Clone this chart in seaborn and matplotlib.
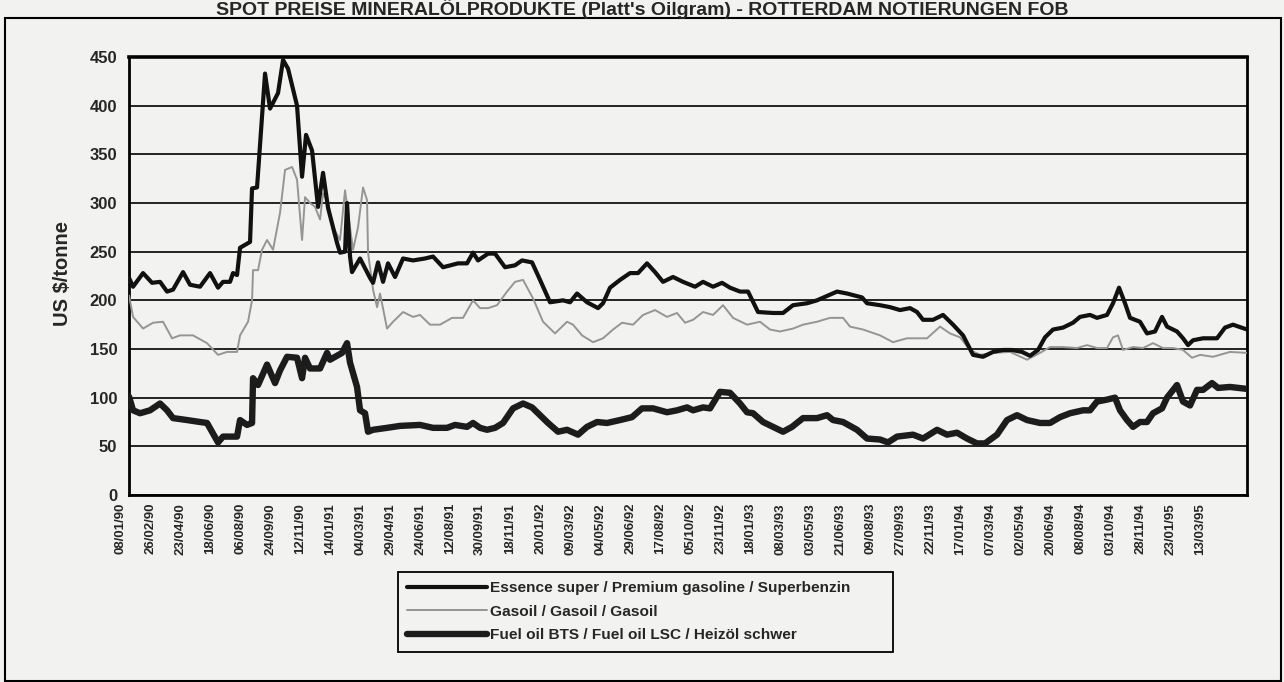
import numpy as np
import pandas as pd
import seaborn as sns
import matplotlib.pyplot as plt
import matplotlib.transforms as mtransforms
from matplotlib.patches import Rectangle
from matplotlib.ticker import MultipleLocator

# %%
title = "SPOT PREISE MINERALÖLPRODUKTE (Platt's Oilgram) - ROTTERDAM NOTIERUNGEN FOB"
y_label = "US $/tonne"
names = ["Essence super / Premium gasoline / Superbenzin",
         "Gasoil / Gasoil / Gasoil",
         "Fuel oil BTS / Fuel oil LSC / Heizöl schwer"]

date_labels = ["08/01/90", "26/02/90", "23/04/90", "18/06/90", "06/08/90", "24/09/90",
               "12/11/90", "14/01/91", "04/03/91", "29/04/91", "24/06/91", "12/08/91",
               "30/09/91", "18/11/91", "20/01/92", "09/03/92", "04/05/92", "29/06/92",
               "17/08/92", "05/10/92", "23/11/92", "18/01/93", "08/03/93", "03/05/93",
               "21/06/93", "09/08/93", "27/09/93", "22/11/93", "17/01/94", "07/03/94",
               "02/05/94", "20/06/94", "08/08/94", "03/10/94", "28/11/94", "23/01/95",
               "13/03/95"]
weeks_per_label = 7.5
last_week = 279.5

# weekly quotations (week number counted from 08/01/90)
ess_week = [0, 1, 3.5, 5.75, 7.75, 9.5, 11, 13.5, 15.25, 17.75,
            20.25, 22.25, 23.5, 25.25, 26, 27, 27.75, 30.25, 30.75, 32,
            34, 35.25, 37.25, 38.5, 39.75, 42, 43.25, 44.25, 45.75, 47.25,
            48.5, 49.75, 52, 52.75, 54, 54.5, 55.25, 55.75, 57.75, 60.25,
            61, 62.25, 63.5, 64.75, 66.5, 68.5, 71, 74, 76, 78.5,
            82.25, 84.5, 86, 87.25, 89.75, 91.5, 94, 96.5, 98.25, 100.75,
            102.75, 105.25, 108.5, 110.25, 112, 114.5, 117.25, 118.5, 120.25, 122.75,
            125.25, 127.25, 129.5, 131.5, 133.5, 136, 138.5, 141.5, 143.5, 146,
            148.25, 150.25, 152.75, 154.75, 157.25, 161, 163.5, 166, 169.5, 172,
            174.75, 177, 179.5, 183.25, 184.5, 187.75, 190.25, 192.75, 195.25, 197,
            198.5, 201, 203.5, 206, 208.5, 211, 213.5, 216, 218.5, 220.75,
            223.25, 225.25, 227.25, 229, 231, 233.5, 236, 237.75, 240.25, 242,
            244.5, 246, 247.5, 249, 250.25, 252.75, 254.5, 256.5, 258.25, 259.5,
            262, 263.5, 264.75, 266, 268.5, 272, 274, 276, 279.5]
ess_val = [223, 214, 228, 218, 219, 209, 211, 229, 216, 214,
           228, 213, 219, 219, 228, 226, 254, 260, 315, 316,
           433, 397, 413, 447, 438, 400, 327, 370, 354, 296,
           331, 295, 259, 249, 250, 300, 245, 229, 243, 223,
           218, 239, 219, 238, 224, 243, 241, 243, 245, 234,
           238, 238, 249, 241, 248, 248, 234, 236, 241, 239,
           221, 198, 200, 198, 207, 198, 192, 197, 213, 221,
           228, 228, 238, 229, 219, 224, 219, 214, 219, 214,
           218, 213, 209, 209, 188, 187, 187, 195, 197, 200,
           205, 209, 207, 203, 197, 195, 193, 190, 192, 188,
           180, 180, 185, 175, 164, 144, 142, 147, 149, 149,
           147, 143, 149, 162, 170, 172, 177, 183, 185, 182,
           185, 197, 213, 197, 182, 178, 166, 168, 183, 173,
           168, 161, 154, 159, 161, 161, 172, 175, 170]

gas_week = [0, 1, 3.5, 6, 8.5, 10.75, 12.75, 16, 19.5, 22.25,
            24.5, 27, 27.75, 29.75, 30.75, 31, 32.25, 33.25, 34.5, 36,
            37.75, 39, 40.75, 42, 43.25, 44, 45.25, 46.5, 47.75, 48.5,
            49.75, 51, 52.75, 54, 54.75, 56, 57.25, 58.5, 59.5, 59.75,
            61, 62, 62.75, 64.5, 66, 68.5, 71, 72.75, 75.25, 77.75,
            80.75, 83.5, 86, 87.75, 89.75, 92, 94.5, 96.5, 98.5, 101,
            103.5, 106.5, 109.5, 111, 113.25, 116, 118.5, 121, 123.25, 126,
            128.5, 131.5, 134.5, 137, 139, 141, 143.5, 146, 148.5, 151,
            154.5, 157.75, 160.25, 162.75, 166, 168.5, 172, 175.25, 178.5, 180.25,
            183.5, 187.75, 191, 194.5, 199.5, 202.75, 205.25, 207.75, 210.25, 212.75,
            216, 220.25, 224.5, 227.75, 230.25, 233.5, 237, 239.5, 242, 244.5,
            246, 247.25, 248.5, 251, 253.5, 256, 258.5, 261, 263.5, 265.75,
            267.75, 271, 275.25, 279.5]
gas_val = [205, 183, 171, 177, 178, 161, 164, 164, 156, 144,
           147, 147, 164, 178, 200, 231, 231, 252, 262, 252,
           290, 334, 337, 324, 262, 306, 300, 296, 283, 310,
           300, 275, 262, 313, 290, 252, 275, 316, 303, 249,
           211, 193, 207, 171, 178, 188, 183, 185, 175, 175,
           182, 182, 200, 192, 192, 195, 209, 219, 221, 202,
           178, 166, 178, 175, 164, 157, 161, 170, 177, 175,
           185, 190, 183, 187, 177, 180, 188, 185, 195, 182,
           175, 178, 170, 168, 171, 175, 178, 182, 182, 173,
           170, 164, 157, 161, 161, 173, 166, 162, 149, 144,
           146, 147, 139, 146, 152, 152, 151, 154, 151, 151,
           162, 164, 149, 152, 151, 156, 151, 151, 149, 141,
           144, 142, 147, 146]

fuel_week = [0, 1, 2.75, 5.25, 7.75, 9.5, 11, 14.5, 17.75, 19.5,
             22.25, 23.5, 27, 27.75, 29.5, 30.75, 31, 32.25, 34.5, 36.5,
             37.75, 39.5, 42, 43.25, 44, 45.25, 47.75, 49.5, 50.25, 53.25,
             54.5, 55.25, 57, 57.75, 59, 59.75, 61, 64.5, 67.75, 72.75,
             76, 79.5, 81.5, 84.5, 86, 87.75, 89.5, 91.5, 93.5, 96,
             98.5, 100.75, 102.75, 104.75, 107.25, 109.5, 112.25, 114.5, 117, 119.5,
             122.75, 125.75, 128.25, 131, 134.5, 137, 139.5, 141, 143.5, 145.25,
             147.75, 150.25, 152.75, 154.5, 156, 158.5, 161, 163.5, 165.75, 168.5,
             172, 174.5, 176, 178.5, 182, 184.5, 187.75, 189.75, 192, 196,
             198.5, 202, 204.5, 207, 209.5, 212, 214, 217, 219.5, 222,
             224.5, 227.75, 230.25, 232.75, 235.25, 238.5, 240.25, 242, 244.5, 246.5,
             247.75, 249.5, 251, 252.75, 254.5, 256, 258.25, 259.5, 262, 263.5,
             265.25, 267, 268.5, 270.75, 272.25, 275.25, 279.5]
fuel_val = [101, 87, 84, 87, 94, 87, 79, 77, 75, 74,
            54, 60, 60, 77, 72, 74, 120, 113, 134, 115,
            128, 142, 141, 120, 141, 130, 130, 146, 139, 146,
            156, 136, 111, 87, 84, 65, 67, 69, 71, 72,
            69, 69, 72, 70, 74, 69, 67, 69, 74, 89,
            94, 90, 82, 74, 65, 67, 62, 70, 75, 74,
            77, 80, 89, 89, 85, 87, 90, 87, 90, 89,
            106, 105, 94, 85, 84, 75, 70, 65, 70, 79,
            79, 82, 77, 75, 67, 58, 57, 54, 60, 62,
            58, 67, 62, 64, 58, 53, 53, 62, 77, 82,
            77, 74, 74, 80, 84, 87, 87, 96, 98, 100,
            87, 77, 70, 75, 75, 84, 89, 100, 113, 96,
            92, 108, 108, 115, 110, 111, 109]

# %%
bg = "#f2f2f0"
sns.set_style("white")
plt.rcParams['font.family'] = ['Liberation Sans', 'DejaVu Sans']
plt.rcParams['lines.solid_joinstyle'] = 'round'

fig = plt.figure(figsize=(12.84, 6.82), dpi=100, facecolor=bg)
ax = fig.add_axes([0.1005, 0.2742, 0.8707, 0.6422])
ax.set_facecolor(bg)

sns.lineplot(x=gas_week, y=gas_val, ax=ax, color="#959595", lw=1.4, label=names[1], zorder=3)
sns.lineplot(x=ess_week, y=ess_val, ax=ax, color="#111111", lw=3, label=names[0], zorder=4)
sns.lineplot(x=fuel_week, y=fuel_val, ax=ax, color="#1c1c1c", lw=4.6, label=names[2], zorder=4)

ax.set_xlim(0, last_week)
ax.set_ylim(0, 450)
ax.set_yticks(range(0, 451, 50))
ax.yaxis.set_minor_locator(MultipleLocator(10))
ax.yaxis.grid(True, which='major', color='black', lw=1.2)
ax.set_axisbelow(True)

# comb of weekly ticks, date labels every 7.5 weeks (drawn as text, shifted like the original)
label_pos = [i * weeks_per_label for i in range(len(date_labels))]
ax.set_xticks(label_pos)
ax.xaxis.set_minor_locator(MultipleLocator(1))
ax.tick_params(axis='x', which='both', direction='out', length=5, width=1,
               color='black', labelbottom=False)
lbl_tr = mtransforms.blended_transform_factory(ax.transData, ax.transAxes) + \
    mtransforms.ScaledTranslation(-9 / 100, -8 / 100, fig.dpi_scale_trans)
for pos, txt in zip(label_pos, date_labels):
    ax.text(pos, 0, txt, transform=lbl_tr, rotation=90, ha='center', va='top',
            fontsize=9.5, fontweight='bold')

ax.tick_params(axis='y', which='both', direction='inout', length=9, width=1.3,
               color='black', labelsize=12, pad=4)
for lbl in ax.get_yticklabels():
    lbl.set_fontweight('bold')

for s in ax.spines.values():
    s.set_visible(True)
    s.set_color('black')
    s.set_linewidth(2)
ax.spines['top'].set_linewidth(2.6)

ax.set_xlabel("")
ax.set_ylabel("")
fig.text(62 / 1284, 1 - 274 / 682, y_label, rotation=90, ha='center', va='center',
         fontsize=14.5, fontweight='bold')
fig.text(0.5, 1 - 15 / 682, title, ha='center', va='baseline', fontsize=14,
         fontweight='bold')

# legend in the same order as the original
h, l = ax.get_legend_handles_labels()
order = [l.index(n) for n in names]
leg = ax.legend([h[i] for i in order], [l[i] for i in order], loc='upper left',
                bbox_to_anchor=(398 / 1284, 26 / 682, 495 / 1284, 84 / 682),
                bbox_transform=fig.transFigure, mode='expand',
                frameon=True, fancybox=False, edgecolor='black', facecolor=bg,
                handlelength=5.2, handletextpad=0.15, labelspacing=0.62,
                borderpad=0.6, borderaxespad=0,
                prop={'size': 11.1, 'weight': 'bold'})
leg.get_frame().set_linewidth(1.3)
leg.get_frame().set_alpha(1)

fig.patches.append(Rectangle((5 / 1284, 1 / 682), 1276 / 1284, 663 / 682,
                             transform=fig.transFigure, fill=False,
                             edgecolor='black', lw=1.5))

fig.savefig("out.png", dpi=100, facecolor=bg)
